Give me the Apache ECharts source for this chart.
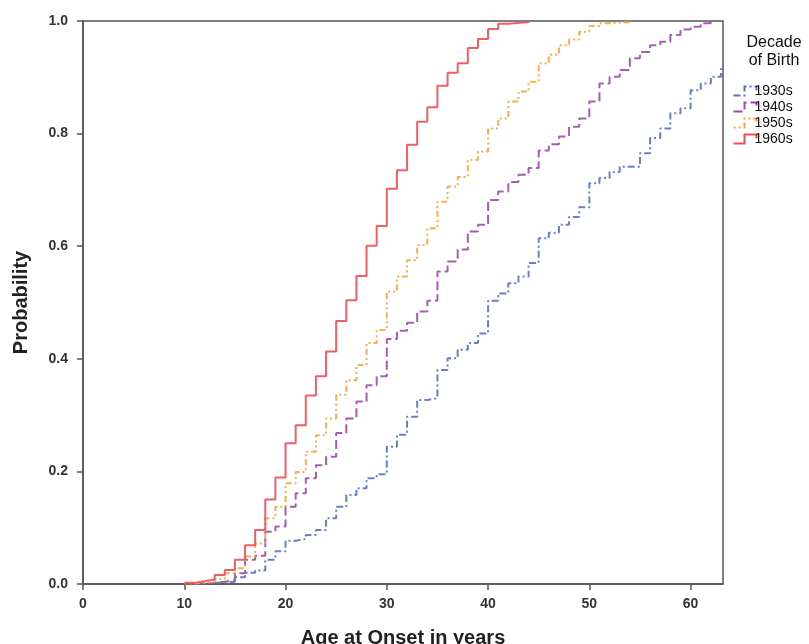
<!DOCTYPE html>
<html>
<head>
<meta charset="utf-8">
<script src="https://cdn.jsdelivr.net/npm/echarts@6/dist/echarts.min.js"></script>
<style>
  html, body { margin: 0; padding: 0; background: #fff; }
  #chart { width: 809px; height: 644px; }
</style>
</head>
<body>
<div id="chart"></div>
<script>
// Cumulative probability of onset by age, one step curve per decade of birth
const xTicks = [0, 10, 20, 30, 40, 50, 60];
const yTicks = [0.0, 0.2, 0.4, 0.6, 0.8, 1.0];
const decadeLabels = ['1930s', '1940s', '1950s', '1960s'];

const ages1930s = [13, 14, 15, 16, 17, 18, 19, 20, 21, 22, 23, 24, 25, 26, 27, 28, 29, 30, 31, 32, 33, 34, 35, 36, 37, 38, 39, 40, 41, 42, 43, 44, 45, 46, 47, 48, 49, 50, 51, 52, 53, 55, 56, 57, 58, 59, 60, 61, 62, 63];
const prob1930s = [0.002, 0.004, 0.012, 0.020, 0.024, 0.043, 0.058, 0.077, 0.080, 0.087, 0.096, 0.117, 0.137, 0.158, 0.170, 0.188, 0.195, 0.244, 0.265, 0.297, 0.327, 0.330, 0.380, 0.401, 0.416, 0.428, 0.445, 0.503, 0.516, 0.534, 0.546, 0.570, 0.614, 0.624, 0.638, 0.652, 0.669, 0.712, 0.721, 0.732, 0.741, 0.765, 0.792, 0.809, 0.836, 0.845, 0.877, 0.889, 0.901, 0.916];

const ages1940s = [11, 12, 13, 14, 15, 16, 17, 18, 19, 20, 21, 22, 23, 24, 25, 26, 27, 28, 29, 30, 31, 32, 33, 34, 35, 36, 37, 38, 39, 40, 41, 42, 43, 44, 45, 46, 47, 48, 49, 50, 51, 52, 53, 54, 55, 56, 57, 58, 59, 60, 61, 62];
const prob1940s = [0.001, 0.002, 0.004, 0.007, 0.019, 0.043, 0.050, 0.093, 0.102, 0.137, 0.161, 0.188, 0.211, 0.226, 0.268, 0.294, 0.324, 0.353, 0.369, 0.435, 0.450, 0.464, 0.484, 0.503, 0.555, 0.573, 0.594, 0.626, 0.638, 0.682, 0.697, 0.714, 0.727, 0.739, 0.770, 0.781, 0.795, 0.812, 0.827, 0.857, 0.889, 0.901, 0.913, 0.934, 0.945, 0.957, 0.963, 0.975, 0.985, 0.990, 0.996, 1.000];

const ages1950s = [10, 11, 12, 13, 14, 15, 16, 17, 18, 19, 20, 21, 22, 23, 24, 25, 26, 27, 28, 29, 30, 31, 32, 33, 34, 35, 36, 37, 38, 39, 40, 41, 42, 43, 44, 45, 46, 47, 48, 49, 50, 51, 52, 54];
const prob1950s = [0.001, 0.002, 0.004, 0.009, 0.019, 0.028, 0.049, 0.072, 0.117, 0.137, 0.179, 0.199, 0.235, 0.264, 0.294, 0.336, 0.362, 0.389, 0.428, 0.451, 0.519, 0.546, 0.575, 0.602, 0.632, 0.679, 0.706, 0.723, 0.753, 0.768, 0.809, 0.827, 0.857, 0.875, 0.892, 0.925, 0.940, 0.957, 0.967, 0.981, 0.991, 0.996, 0.998, 1.000];

const ages1960s = [10, 11, 12, 13, 14, 15, 16, 17, 18, 19, 20, 21, 22, 23, 24, 25, 26, 27, 28, 29, 30, 31, 32, 33, 34, 35, 36, 37, 38, 39, 40, 41, 42, 44];
const prob1960s = [0.002, 0.005, 0.008, 0.016, 0.025, 0.043, 0.069, 0.096, 0.150, 0.189, 0.250, 0.282, 0.335, 0.369, 0.413, 0.467, 0.504, 0.547, 0.601, 0.636, 0.702, 0.735, 0.780, 0.821, 0.847, 0.885, 0.908, 0.925, 0.952, 0.968, 0.986, 0.995, 0.998, 1.000];

const colors = ['#5a6fc4', '#9a4ca6', '#f8a43c', '#f04c58'];
const dashes = [[7, 3, 2, 3], [9, 4], [2, 3, 2, 3, 6, 3], 'solid'];
const curves = [[ages1930s, prob1930s], [ages1940s, prob1940s], [ages1950s, prob1950s], [ages1960s, prob1960s]];

const pair = (xs, ys) => xs.map((x, i) => [x, ys[i]]);

const chart = echarts.init(document.getElementById('chart'), null, { renderer: 'canvas' });

const stepIcon = 'path://M0,10 L11,10 L11,1 L23,1 L23,5';

chart.setOption({
  animation: false,
  backgroundColor: '#ffffff',
  title: {
    text: 'Decade\nof Birth',
    left: 769,
    top: 29,
    textAlign: 'center',
    textStyle: { fontFamily: 'Liberation Sans', fontSize: 16, fontWeight: 'normal', color: '#111', lineHeight: 18 }
  },
  legend: {
    orient: 'vertical',
    left: 726,
    top: 79,
    itemWidth: 23,
    itemHeight: 10,
    itemGap: 2,
    selectedMode: false,
    textStyle: { fontFamily: 'Liberation Sans', fontSize: 14, color: '#111', padding: [0, 0, 0, -7] },
    data: decadeLabels.map((name, i) => ({
      name,
      icon: stepIcon,
      itemStyle: {
        color: 'none',
        borderColor: colors[i],
        borderWidth: 2,
        borderType: dashes[i]
      }
    }))
  },
  grid: {
    left: 83, right: 86, top: 21, bottom: 60,
    outerBoundsMode: 'none',
    containLabel: false,
    show: true,
    borderColor: '#555',
    borderWidth: 1.5,
    backgroundColor: 'transparent'
  },
  xAxis: {
    type: 'value',
    min: 0,
    max: 63.2,
    interval: 10,
    name: 'Age at Onset in years',
    nameLocation: 'middle',
    nameGap: 44,
    nameTextStyle: { fontFamily: 'Liberation Sans', fontSize: 20, fontWeight: 'bold', color: '#222' },
    axisLine: { show: true, lineStyle: { color: '#555', width: 1.5 } },
    axisTick: { show: true, length: 6, lineStyle: { color: '#555', width: 1.5 } },
    axisLabel: {
      fontFamily: 'Liberation Sans', fontSize: 14, fontWeight: 'bold', color: '#333', margin: 13,
      showMaxLabel: false,
      formatter: v => (xTicks.includes(v) ? String(v) : '')
    },
    splitLine: { show: false }
  },
  yAxis: {
    type: 'value',
    min: 0,
    max: 1,
    interval: 0.2,
    name: 'Probability',
    nameLocation: 'middle',
    nameGap: 52,
    nameTextStyle: { fontFamily: 'Liberation Sans', fontSize: 20, fontWeight: 'bold', color: '#222' },
    axisLine: { show: true, lineStyle: { color: '#555', width: 1.5 } },
    axisTick: { show: true, length: 6, lineStyle: { color: '#555', width: 1.5 } },
    axisLabel: {
      fontFamily: 'Liberation Sans', fontSize: 14, fontWeight: 'bold', color: '#333', margin: 15,
      formatter: v => {
        const t = yTicks.find(k => Math.abs(k - v) < 1e-9);
        return t === undefined ? '' : t.toFixed(1);
      }
    },
    splitLine: { show: false }
  },
  series: curves.map(([xs, ys], i) => ({
    name: decadeLabels[i],
    type: 'line',
    step: 'end',
    data: pair(xs, ys),
    showSymbol: false,
    symbol: 'none',
    color: colors[i],
    lineStyle: { color: colors[i], width: 2, type: dashes[i], opacity: 0.9 },
    z: 2 + i
  }))
});
</script>
</body>
</html>
